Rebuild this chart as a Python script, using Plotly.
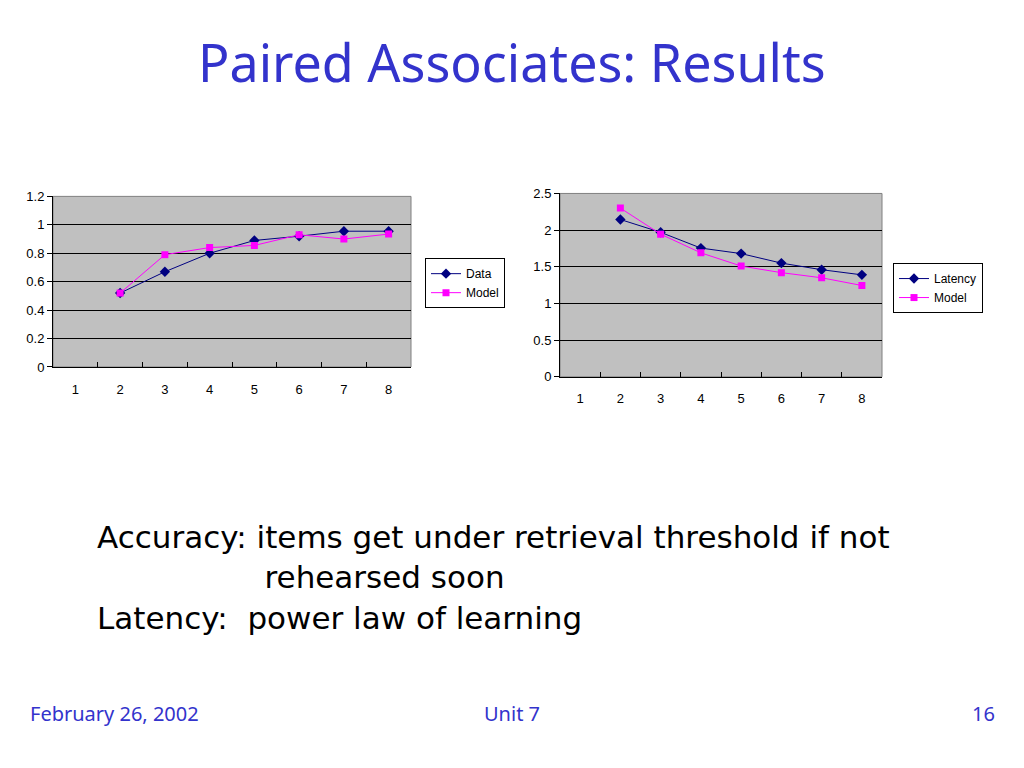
import plotly.graph_objects as go

categories = [1, 2, 3, 4, 5, 6, 7, 8]
acc_x = [2, 3, 4, 5, 6, 7, 8]
acc_data = [0.52, 0.67, 0.80, 0.89, 0.92, 0.955, 0.955]
acc_model = [0.52, 0.79, 0.84, 0.855, 0.93, 0.90, 0.935]
lat_x = [2, 3, 4, 5, 6, 7, 8]
lat_data = [2.145, 1.97, 1.755, 1.68, 1.55, 1.46, 1.39]
lat_model = [2.30, 1.945, 1.69, 1.51, 1.42, 1.35, 1.245]
acc_ticks = [0, 0.2, 0.4, 0.6, 0.8, 1.0, 1.2]
acc_ticktext = ["0", "0.2", "0.4", "0.6", "0.8", "1", "1.2"]
lat_ticks = [0, 0.5, 1.0, 1.5, 2.0, 2.5]
lat_ticktext = ["0", "0.5", "1", "1.5", "2", "2.5"]

W, H = 1024, 768
OFF = 8  # page body margin
NAVY = "#000080"
MAG = "#FF00FF"
BLUE = "#3333CC"

fig = go.Figure()
fig.add_trace(go.Scatter(x=acc_x, y=acc_data, name="Data", mode="lines+markers",
                         line=dict(color=NAVY, width=1),
                         marker=dict(symbol="diamond", size=8, color=NAVY),
                         xaxis="x", yaxis="y", legend="legend"))
fig.add_trace(go.Scatter(x=acc_x, y=acc_model, name="Model", mode="lines+markers",
                         line=dict(color=MAG, width=1),
                         marker=dict(symbol="square", size=7, color=MAG),
                         xaxis="x", yaxis="y", legend="legend"))
fig.add_trace(go.Scatter(x=lat_x, y=lat_data, name="Latency", mode="lines+markers",
                         line=dict(color=NAVY, width=1),
                         marker=dict(symbol="diamond", size=8, color=NAVY),
                         xaxis="x2", yaxis="y2", legend="legend2"))
fig.add_trace(go.Scatter(x=lat_x, y=lat_model, name="Model", mode="lines+markers",
                         line=dict(color=MAG, width=1),
                         marker=dict(symbol="square", size=7, color=MAG),
                         xaxis="x2", yaxis="y2", legend="legend2"))

def px(v):
    return (v - OFF) / W

def py(v):
    return 1 - (v - OFF) / H

tickfont = dict(family="Liberation Sans, Arial", size=13, color="black")

def xaxis_cfg(dom, anchor):
    return dict(domain=dom, anchor=anchor, range=[0.5, 8.5],
                tickvals=categories, ticktext=[str(c) for c in categories],
                ticks="", showgrid=False, zeroline=False,
                showline=True, linecolor="black", linewidth=1,
                tickfont=tickfont, ticklabelstandoff=10,
                minor=dict(tickvals=[1.5, 2.5, 3.5, 4.5, 5.5, 6.5, 7.5],
                           ticks="inside", ticklen=5, tickcolor="black", showgrid=False))

def yaxis_cfg(dom, anchor, rng, tv, tt, gridvals):
    return dict(domain=dom, anchor=anchor, range=rng, tickvals=tv, ticktext=tt,
                ticks="outside", ticklen=5, tickcolor="black",
                showgrid=False, zeroline=False,
                showline=True, linecolor="black", linewidth=1,
                tickfont=tickfont,
                minor=dict(tickvals=gridvals, showgrid=True, gridcolor="black",
                           gridwidth=1, ticks=""))

L = dict(x0=53, x1=411, y0=193, y1=367)
R = dict(x0=560, x1=882, y0=190, y1=377)

legfont = dict(family="Liberation Sans, Arial", size=12, color="black")
fig.update_layout(
    width=W, height=H,
    margin=dict(l=0, r=0, t=0, b=0),
    paper_bgcolor="white", plot_bgcolor="white",
    showlegend=True,
    xaxis=xaxis_cfg([px(L["x0"]), px(L["x1"])], "y"),
    yaxis=yaxis_cfg([py(L["y1"]), py(L["y0"])], "x", [0, 1.2], acc_ticks, acc_ticktext,
                    [0.2, 0.4, 0.6, 0.8, 1.0]),
    xaxis2=xaxis_cfg([px(R["x0"]), px(R["x1"])], "y2"),
    yaxis2=yaxis_cfg([py(R["y1"]), py(R["y0"])], "x2", [0, 2.5], lat_ticks, lat_ticktext,
                     [0.5, 1.0, 1.5, 2.0]),
    legend=dict(x=px(425), y=py(256), xanchor="left", yanchor="top",
                bgcolor="white", bordercolor="black", borderwidth=1,
                font=legfont, itemwidth=30),
    legend2=dict(x=px(893), y=py(261), xanchor="left", yanchor="top",
                 bgcolor="white", bordercolor="black", borderwidth=1,
                 font=legfont, itemwidth=30),
)

# plot-area backgrounds and borders
for b in (L, R):
    fig.add_shape(type="rect", xref="paper", yref="paper",
                  x0=px(b["x0"]), x1=px(b["x1"]), y0=py(b["y1"]), y1=py(b["y0"]),
                  fillcolor="#C0C0C0", line=dict(color="#808080", width=1), layer="below")

def txt(s, x, y, size, color, anchor="left", family="Noto Sans, DejaVu Sans"):
    fig.add_annotation(text=s, x=px(x), y=py(y), xref="paper", yref="paper",
                       showarrow=False, xanchor=anchor, yanchor="middle", align="left",
                       font=dict(family=family, size=size, color=color))

txt("Paired Associates: Results", 512, 55, 52, BLUE, "center")

indent = "&nbsp;" * 17
body = ("Accuracy: items get under retrieval threshold if not<br>"
        + indent + "rehearsed soon<br>"
        + "Latency:  power law of learning")
txt(body, 95, 582, 31, "black", "left", family="DejaVu Sans")

txt("February 26, 2002", 28, 720, 20, BLUE)
txt("Unit 7", 512, 720, 20, BLUE, "center")
txt("16", 997, 720, 20, BLUE, "right")

fig.write_html("out.html")
